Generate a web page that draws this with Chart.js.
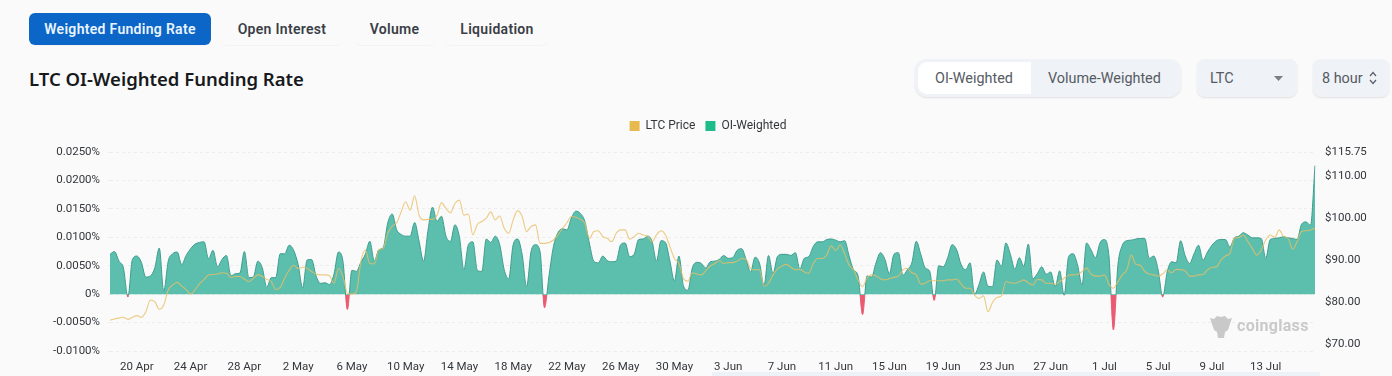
<!DOCTYPE html>
<html>
<head>
<meta charset="utf-8">
<script src="https://cdn.jsdelivr.net/npm/chart.js@4"></script>
<style>
  html, body { margin: 0; padding: 0; width: 1392px; height: 376px; overflow: hidden; background: #fafafa; }
  body { position: relative; font-family: "Noto Sans", sans-serif; }
  .abs { position: absolute; box-sizing: border-box; white-space: nowrap; }
  .tab { top: 13px; height: 32px; line-height: 32px; text-align: center; font-size: 14px; font-weight: 600; color: #3a3f47; border-radius: 6px; box-shadow: 0 1px 1px rgba(0,0,0,0.03); font-family: Roboto, sans-serif; letter-spacing: 0.3px; }
  .tab.on { background: #0b66c8; color: #eaf4ff; }
  .title { left: 29px; top: 65px; font-size: 18.5px; line-height: 28px; font-weight: 600; color: #17191c; }
  .ctl { font-size: 14.4px; line-height: 18px; color: #555b63; font-family: Roboto, sans-serif; }
  .box { background: #eff2f6; border-radius: 8px; box-shadow: 0 1px 2px rgba(0,0,0,0.1); }
  canvas { position: absolute; left: 24px; top: 110px; }
  .mark { left: 1237px; top: 314px; font: bold 16px/24px Roboto, sans-serif; color: #c9c9c9; letter-spacing: 0.3px; }
</style>
</head>
<body>
<div class="abs tab on" style="left:29px;width:182px">Weighted Funding Rate</div>
<div class="abs tab" style="left:222px;width:120px">Open Interest</div>
<div class="abs tab" style="left:355px;width:79px">Volume</div>
<div class="abs tab" style="left:446px;width:102px">Liquidation</div>
<div class="abs title">LTC OI-Weighted Funding Rate</div>

<div class="abs box" style="left:915px;top:59px;width:266px;height:38px;border-radius:12px"></div>
<div class="abs" style="left:918px;top:62px;width:113px;height:32px;background:#fff;border-radius:9px 0 0 9px"></div>
<div class="abs ctl" style="left:935px;top:70px">OI-Weighted</div>
<div class="abs ctl" style="left:1048px;top:70px">Volume-Weighted</div>
<div class="abs box" style="left:1197px;top:59px;width:100px;height:38px"></div>
<div class="abs ctl" style="left:1210px;top:70px">LTC</div>
<svg class="abs" style="left:1274px;top:76px" width="9" height="5"><path d="M0 0H9L4.5 5Z" fill="#7a7f87"/></svg>
<div class="abs box" style="left:1313px;top:59px;width:76px;height:38px"></div>
<div class="abs ctl" style="left:1322px;top:70px">8 hour</div>
<svg class="abs" style="left:1369px;top:71px" width="8" height="14"><path d="M1 5L4 1.5L7 5M1 9L4 12.5L7 9" fill="none" stroke="#5a6068" stroke-width="1.2"/></svg>

<canvas id="chart" width="1368" height="266"></canvas>

<svg class="abs" style="left:1209px;top:313px" width="24" height="26"><path d="M1 5L5 6L8 3L12 4L16 3L19 6L23 5L21 11L19 17L16 19L15 25L9 25L8 19L5 17L3 11Z" fill="#c9c9c9"/></svg>
<div class="abs mark">coinglass</div>
<div class="abs" style="left:712px;top:372px;width:608px;height:4px;background:#edf1f8"></div>

<script>
const categories = [];
const startDate = new Date(Date.UTC(2024, 3, 18));
const monthNames = ["Jan", "Feb", "Mar", "Apr", "May", "Jun", "Jul"];

const fundingRate = [
  0.0070, 0.0075, 0.0058, 0.0046, -0.0005, 0.0061, 0.0067, 0.0056, 0.0030, 0.0032, 0.0046, 0.0081,
  0.0005, 0.0058, 0.0071, 0.0074, 0.0052, 0.0068, 0.0080, 0.0088, 0.0091, 0.0092, 0.0062, 0.0077,
  0.0048, 0.0061, 0.0068, 0.0032, 0.0036, 0.0037, 0.0075, 0.0029, 0.0030, 0.0058, 0.0046, 0.0012,
  0.0029, 0.0029, 0.0071, 0.0071, 0.0086, 0.0077, 0.0052, 0.0011, 0.0060, 0.0061, 0.0032, 0.0019,
  0.0020, 0.0017, 0.0035, 0.0074, 0.0058, -0.0027, 0.0042, 0.0040, 0.0056, 0.0070, 0.0093, 0.0058,
  0.0078, 0.0082, 0.0125, 0.0141, 0.0113, 0.0105, 0.0102, 0.0102, 0.0126, 0.0093, 0.0058, 0.0113,
  0.0153, 0.0128, 0.0137, 0.0102, 0.0093, 0.0122, 0.0101, 0.0043, 0.0087, 0.0092, 0.0042, 0.0040,
  0.0097, 0.0091, 0.0102, 0.0087, 0.0043, 0.0027, 0.0087, 0.0097, 0.0070, 0.0013, 0.0075, 0.0087,
  0.0075, -0.0024, 0.0032, 0.0084, 0.0108, 0.0115, 0.0113, 0.0134, 0.0146, 0.0142, 0.0128, 0.0090,
  0.0058, 0.0055, 0.0067, 0.0059, 0.0057, 0.0058, 0.0087, 0.0090, 0.0066, 0.0070, 0.0096, 0.0097,
  0.0102, 0.0093, 0.0058, 0.0094, 0.0091, 0.0058, 0.0023, 0.0067, 0.0015, 0.0007, 0.0046, 0.0056,
  0.0054, 0.0046, 0.0057, 0.0058, 0.0061, 0.0068, 0.0063, 0.0064, 0.0077, 0.0080, 0.0061, 0.0039,
  0.0065, 0.0054, 0.0015, 0.0068, 0.0036, 0.0066, 0.0070, 0.0070, 0.0068, 0.0073, 0.0044, 0.0063,
  0.0066, 0.0084, 0.0092, 0.0092, 0.0096, 0.0097, 0.0095, 0.0092, 0.0094, 0.0067, 0.0043, 0.0032,
  -0.0036, 0.0032, 0.0030, 0.0055, 0.0073, 0.0061, 0.0036, 0.0070, 0.0073, 0.0033, 0.0043, 0.0055,
  0.0093, 0.0070, 0.0046, 0.0040, -0.0011, 0.0050, 0.0048, 0.0064, 0.0087, 0.0078, 0.0052, 0.0043,
  0.0055, 0.0000, 0.0017, 0.0039, 0.0014, 0.0013, 0.0060, 0.0049, 0.0090, 0.0070, 0.0044, 0.0064,
  0.0049, 0.0088, 0.0027, 0.0036, 0.0048, 0.0035, 0.0039, 0.0013, 0.0041, -0.0002, 0.0066, 0.0071,
  0.0051, 0.0016, 0.0090, 0.0078, 0.0064, 0.0090, 0.0096, 0.0067, -0.0063, 0.0051, 0.0086, 0.0094,
  0.0095, 0.0097, 0.0098, 0.0098, 0.0063, 0.0067, 0.0042, -0.0005, 0.0039, 0.0057, 0.0055, 0.0094,
  0.0068, 0.0054, 0.0071, 0.0086, 0.0060, 0.0074, 0.0086, 0.0094, 0.0096, 0.0096, 0.0083, 0.0099,
  0.0102, 0.0108, 0.0104, 0.0099, 0.0099, 0.0098, 0.0063, 0.0096, 0.0098, 0.0099, 0.0101, 0.0099,
  0.0098, 0.0096, 0.0123, 0.0127, 0.0121, 0.0226
];

const ltcPrice = [
  75.7, 76.0, 76.2, 76.4, 75.9, 76.4, 76.8, 76.4, 77.7, 80.5, 80.1, 78.3,
  79.3, 82.9, 84.1, 84.7, 83.8, 83.0, 81.9, 83.0, 84.4, 85.4, 86.5, 86.6,
  86.7, 87.0, 86.9, 85.9, 86.1, 86.1, 85.5, 84.9, 85.7, 86.5, 86.1, 85.4,
  84.9, 83.0, 83.5, 85.7, 87.6, 88.8, 88.0, 88.3, 88.0, 87.3, 86.7, 86.5,
  86.5, 86.3, 84.5, 88.0, 86.1, 82.1, 81.9, 82.5, 89.6, 92.4, 89.2, 89.1,
  92.4, 92.8, 96.4, 98.1, 98.9, 101.5, 103.9, 101.9, 105.3, 100.7, 99.6, 99.7,
  99.7, 100.7, 103.7, 102.3, 101.3, 103.5, 104.3, 100.7, 101.0, 96.0, 98.5, 99.2,
  100.0, 101.5, 99.6, 100.5, 97.6, 96.4, 99.6, 101.8, 100.4, 96.8, 98.0, 98.4,
  94.0, 94.0, 94.2, 94.8, 96.0, 97.6, 98.9, 100.4, 100.2, 99.7, 98.8, 95.2,
  96.8, 97.0, 95.6, 95.2, 94.4, 96.4, 97.2, 97.2, 95.0, 95.6, 96.4, 96.0,
  95.7, 94.4, 96.0, 97.0, 96.0, 93.2, 90.4, 89.2, 85.7, 85.0, 87.0, 86.7,
  86.5, 87.5, 88.6, 89.2, 89.9, 89.2, 89.4, 89.4, 89.8, 90.4, 90.2, 88.0,
  87.7, 87.7, 83.8, 84.5, 86.5, 87.9, 88.6, 89.0, 88.3, 87.7, 87.8, 87.2,
  86.9, 89.2, 90.4, 90.4, 91.2, 93.4, 92.3, 93.6, 91.5, 88.8, 87.7, 85.3,
  83.7, 85.7, 86.5, 86.2, 85.6, 85.3, 85.6, 85.9, 86.2, 87.7, 88.0, 87.0,
  86.5, 84.3, 84.5, 85.1, 85.1, 85.1, 85.1, 85.3, 85.3, 85.5, 84.3, 83.3,
  83.3, 81.7, 80.9, 81.5, 77.7, 79.9, 81.1, 81.5, 84.9, 84.6, 84.5, 84.9,
  85.3, 84.6, 84.1, 85.4, 85.3, 84.5, 84.5, 84.3, 84.9, 85.7, 86.4, 86.5,
  86.6, 87.3, 88.1, 86.7, 86.2, 86.2, 86.5, 84.3, 83.3, 84.9, 86.5, 87.7,
  91.2, 89.0, 88.8, 87.3, 86.7, 86.5, 86.2, 86.7, 87.7, 87.0, 87.8, 87.7,
  87.5, 86.2, 86.2, 86.5, 86.6, 87.7, 88.3, 88.4, 90.0, 91.0, 91.6, 95.2,
  95.4, 96.0, 94.4, 92.8, 91.2, 92.4, 94.8, 96.0, 95.4, 97.2, 95.6, 95.2,
  92.6, 94.4, 96.8, 97.0, 97.2, 97.6
];

const fundingTicks = [0.025, 0.02, 0.015, 0.01, 0.005, 0, -0.005, -0.01];
const priceTicks = [115.75, 110, 100, 90, 80, 70];

// 8 hour candles, one label per point
fundingRate.forEach((_, i) => {
  const d = new Date(startDate.getTime() + i * 8 * 3600 * 1000);
  categories.push(d.getUTCDate() + " " + monthNames[d.getUTCMonth()]);
});

const Config = {
  colors: {
    price: "rgba(233, 190, 100, 0.8)",
    priceBox: "#e8b94f",
    greenBox: "#1fbc8b",
    greenFill: "#5cbfae",
    greenLine: "#3c9c8c",
    redFill: "#ea5a70",
    text: "#33363b",
    grid: "#ececec",
  },
  font: "Roboto, sans-serif",
  fontSize: 11.5,
};

const legendColors = [Config.colors.priceBox, Config.colors.greenBox];

// the legend takes the whole band above the plot
const legendBand = {
  id: "legendBand",
  beforeInit(chart) {
    const fit = chart.legend.fit;
    chart.legend.fit = function () {
      fit.bind(chart.legend)();
      this.height = 42;
    };
  },
};

// colour turns red exactly where the series crosses zero
const splitAtZero = (upper, lower) => (context) => {
  const { chart } = context;
  if (!chart.chartArea) return upper;
  const { top, bottom } = chart.chartArea;
  const stop = (chart.scales.y.getPixelForValue(0) + 0.6 - top) / (bottom - top);
  const g = chart.ctx.createLinearGradient(0, top, 0, bottom);
  g.addColorStop(0, upper);
  g.addColorStop(stop, upper);
  g.addColorStop(stop, lower);
  g.addColorStop(1, lower);
  return g;
};

new Chart(document.getElementById("chart"), {
  type: "line",
  plugins: [legendBand],
  data: {
    labels: categories,
    datasets: [
      {
        label: "LTC Price",
        data: ltcPrice,
        yAxisID: "y1",
        borderColor: Config.colors.price,
        borderWidth: 1.1,
        pointRadius: 0,
        cubicInterpolationMode: "monotone",
      },
      {
        label: "OI-Weighted",
        data: fundingRate,
        yAxisID: "y",
        borderColor: splitAtZero(Config.colors.greenLine, Config.colors.redFill),
        backgroundColor: splitAtZero(Config.colors.greenFill, Config.colors.redFill),
        borderWidth: 1,
        pointRadius: 0,
        cubicInterpolationMode: "monotone",
        fill: "origin",
      },
    ],
  },
  options: {
    responsive: false,
    animation: false,
    layout: { padding: 0 },
    plugins: {
      tooltip: { enabled: false },
      legend: {
        position: "top",
        labels: {
          boxWidth: 10,
          boxHeight: 10,
          padding: 10,
          color: Config.colors.text,
          font: { size: 12, family: Config.font },
          generateLabels: (chart) =>
            chart.data.datasets.map((ds, i) => ({
              text: ds.label,
              fillStyle: legendColors[i],
              strokeStyle: legendColors[i],
              lineWidth: 0,
              fontColor: Config.colors.text,
              datasetIndex: i,
            })),
        },
      },
    },
    scales: {
      x: {
        offset: false,
        grid: { display: false },
        border: { display: false },
        afterFit: (axis) => { axis.height = 25; },
        ticks: {
          autoSkip: false,
          maxRotation: 0,
          padding: 1,
          color: Config.colors.text,
          font: { size: Config.fontSize, family: Config.font },
          callback: function (val, i) {
            return (i - 6) % 12 === 0 && i >= 6 ? this.getLabelForValue(val) : null;
          },
        },
      },
      y: {
        position: "left",
        min: -0.01,
        max: 0.025,
        afterFit: (axis) => { axis.width = 86; },
        afterBuildTicks: (axis) => { axis.ticks = fundingTicks.map((value) => ({ value })); },
        border: { display: false, dash: [3, 3] },
        grid: { color: Config.colors.grid, tickLength: 2 },
        ticks: {
          padding: 8,
          color: Config.colors.text,
          font: { size: Config.fontSize, family: Config.font },
          callback: (v) => (v === 0 ? "0%" : v.toFixed(4) + "%"),
        },
      },
      y1: {
        position: "right",
        min: 68.37,
        max: 115.75,
        afterFit: (axis) => { axis.width = 77; },
        afterBuildTicks: (axis) => { axis.ticks = priceTicks.map((value) => ({ value })); },
        border: { display: false },
        grid: { display: false },
        ticks: {
          padding: 2,
          color: Config.colors.text,
          font: { size: Config.fontSize, family: Config.font },
          callback: (v) => "$" + v.toFixed(2),
        },
      },
    },
  },
});
</script>
</body>
</html>
